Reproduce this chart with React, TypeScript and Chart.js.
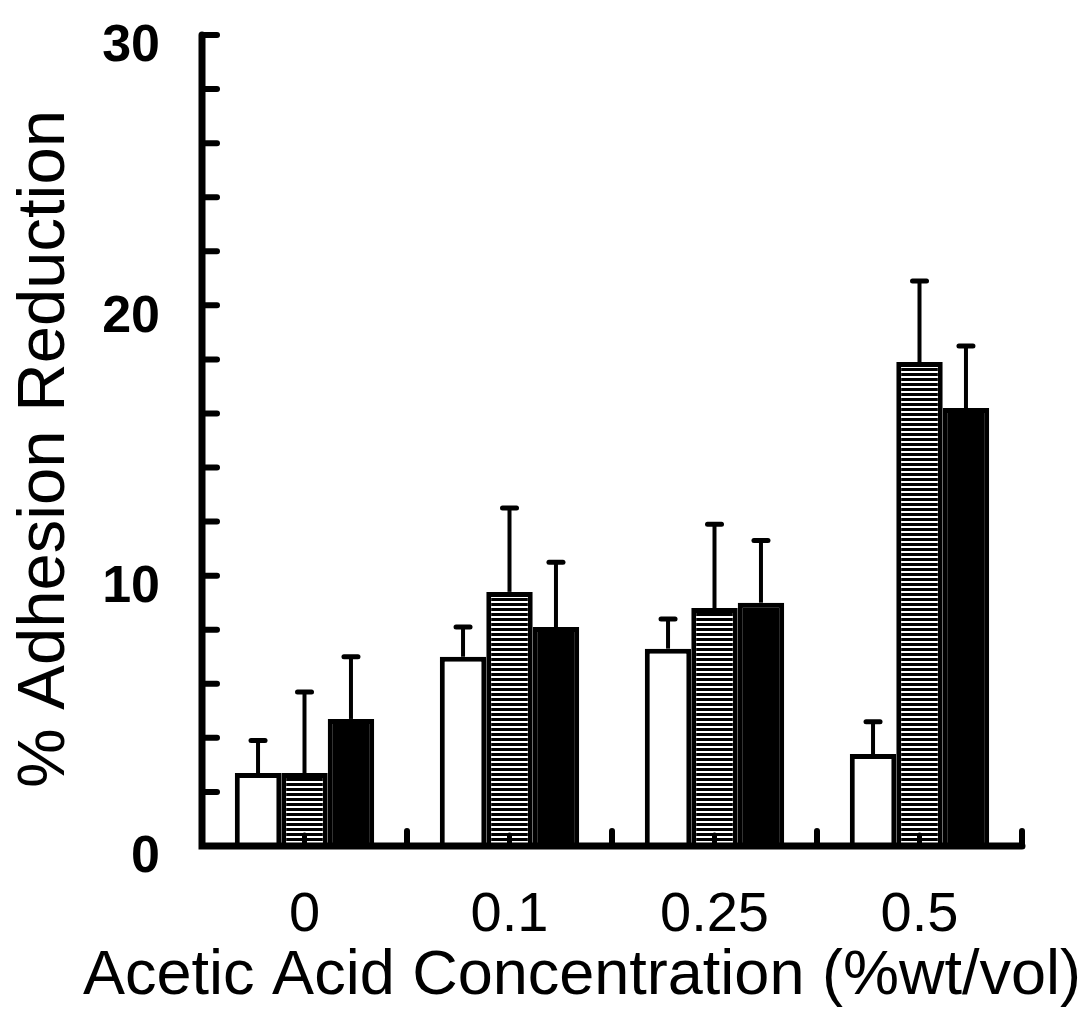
import React, { useEffect, useRef } from 'react';
import { Chart, registerables } from 'chart.js';

Chart.register(...registerables);

const FONT = '"Liberation Sans", Arial, Helvetica, sans-serif';

// Categories (acetic acid concentration, %wt/vol)
const categories = ['0', '0.1', '0.25', '0.5'];

// Bar heights (% adhesion reduction)
const seriesWhite = [2.7, 7.0, 7.3, 3.4];
const seriesHatched = [2.7, 9.4, 8.8, 17.9];
const seriesBlack = [4.7, 8.1, 9.0, 16.2];

// Upper error bar lengths
const errWhite = [1.2, 1.1, 1.1, 1.2];
const errHatched = [3.0, 3.1, 3.1, 3.0];
const errBlack = [2.3, 2.4, 2.3, 2.3];

// Y axis
const yMin = 0;
const yMax = 30;
const yMinorStep = 2;
const yTickLabels = [0, 10, 20, 30];

const xTitle = 'Acetic Acid Concentration (%wt/vol)';
const yTitle = '% Adhesion Reduction';

export default function App() {
  const ref = useRef<HTMLCanvasElement | null>(null);

  useEffect(() => {
    document.body.style.margin = '0';
    const canvas = ref.current!;
    const ctx0 = canvas.getContext('2d')!;

    // horizontal line hatch pattern: black with thin white lines
    const pc = document.createElement('canvas');
    pc.width = 8;
    pc.height = 5;
    const pctx = pc.getContext('2d')!;
    pctx.fillStyle = '#000';
    pctx.fillRect(0, 0, 8, 5);
    pctx.fillStyle = '#fff';
    pctx.fillRect(0, 1, 8, 2);
    const hatch = ctx0.createPattern(pc, 'repeat')!;

    const errors = [errWhite, errHatched, errBlack];

    const customPlugin = {
      id: 'customAxes',
      afterDatasetsDraw(chart: any) {
        const { ctx, chartArea, scales } = chart;
        const x = scales.x;
        const y = scales.y;
        const L = chartArea.left;
        const R = chartArea.right;
        const B = chartArea.bottom;
        ctx.save();
        ctx.strokeStyle = '#000';
        ctx.fillStyle = '#000';

        // error bars (upper only)
        chart.data.datasets.forEach((ds: any, di: number) => {
          const meta = chart.getDatasetMeta(di);
          meta.data.forEach((el: any, i: number) => {
            const v = ds.data[i];
            const e = errors[di][i];
            const yTop = y.getPixelForValue(v + e);
            ctx.lineWidth = 4;
            ctx.lineCap = 'butt';
            ctx.beginPath();
            ctx.moveTo(el.x, el.y);
            ctx.lineTo(el.x, yTop);
            ctx.stroke();
            ctx.lineWidth = 5;
            ctx.lineCap = 'round';
            ctx.beginPath();
            ctx.moveTo(el.x - 7, yTop);
            ctx.lineTo(el.x + 7, yTop);
            ctx.stroke();
          });
        });

        // axis lines
        ctx.lineWidth = 7;
        ctx.lineCap = 'round';
        ctx.lineJoin = 'miter';
        ctx.beginPath();
        ctx.moveTo(L, y.getPixelForValue(yMax));
        ctx.lineTo(L, B);
        ctx.lineTo(R, B);
        ctx.stroke();

        // y ticks (inward)
        ctx.lineWidth = 6;
        ctx.lineCap = 'round';
        for (let v = yMin + yMinorStep; v <= yMax + 1e-9; v += yMinorStep) {
          const py = y.getPixelForValue(v);
          ctx.beginPath();
          ctx.moveTo(L, py);
          ctx.lineTo(L + 15, py);
          ctx.stroke();
        }

        // x boundary ticks (upward)
        const n = categories.length;
        for (let i = 0; i < n; i++) {
          const bx = i < n - 1 ? (x.getPixelForValue(i) + x.getPixelForValue(i + 1)) / 2 : R;
          ctx.beginPath();
          ctx.moveTo(bx, B);
          ctx.lineTo(bx, B - 15);
          ctx.stroke();
        }
        // center ticks
        ctx.lineWidth = 5;
        for (let i = 0; i < n; i++) {
          const cx = x.getPixelForValue(i);
          ctx.beginPath();
          ctx.moveTo(cx, B);
          ctx.lineTo(cx, B - 11);
          ctx.stroke();
        }

        // titles
        ctx.fillStyle = '#000';
        ctx.textAlign = 'center';
        ctx.textBaseline = 'middle';
        ctx.font = `63px ${FONT}`;
        ctx.fillText(xTitle, 582, 977);

        ctx.save();
        ctx.translate(46, 449);
        ctx.rotate(-Math.PI / 2);
        ctx.font = `67px ${FONT}`;
        ctx.fillText(yTitle, 0, 0);
        ctx.restore();

        ctx.restore();
      },
    };

    const chart = new Chart(canvas, {
      type: 'bar',
      data: {
        labels: categories,
        datasets: [
          {
            label: 'white',
            data: seriesWhite,
            backgroundColor: '#ffffff',
            borderColor: '#000000',
            borderWidth: 5,
          },
          {
            label: 'hatched',
            data: seriesHatched,
            backgroundColor: hatch as any,
            borderColor: '#000000',
            borderWidth: 5,
          },
          {
            label: 'black',
            data: seriesBlack,
            backgroundColor: '#000000',
            borderColor: '#000000',
            borderWidth: 5,
          },
        ],
      },
      options: {
        responsive: false,
        animation: false,
        events: [],
        layout: { padding: { top: 35, right: 69, left: 0, bottom: 0 } },
        datasets: {
          bar: { categoryPercentage: 0.68, barPercentage: 1.0 },
        },
        plugins: {
          legend: { display: false },
          tooltip: { enabled: false },
          title: { display: false },
        },
        scales: {
          x: {
            grid: { display: false, drawTicks: false },
            border: { display: false },
            ticks: {
              color: '#000',
              padding: 36,
              font: { family: FONT, size: 56 },
            },
            afterFit: (s: any) => {
              s.height = 1022 - 846;
              s.paddingLeft = 0;
              s.paddingRight = 0;
            },
          },
          y: {
            min: yMin,
            max: yMax,
            grid: { display: false, drawTicks: false },
            border: { display: false },
            ticks: {
              stepSize: yMinorStep,
              autoSkip: false,
              color: '#000',
              padding: 42,
              labelOffset: 12,
              font: { family: FONT, size: 52, weight: 'bold' },
              callback: (v: any) => (yTickLabels.includes(Number(v)) ? String(v) : ''),
            },
            afterFit: (s: any) => {
              s.width = 202;
              s.paddingTop = 0;
              s.paddingBottom = 0;
            },
          },
        },
      },
      plugins: [customPlugin],
    });

    return () => chart.destroy();
  }, []);

  return <canvas ref={ref} width={1091} height={1022} style={{ display: 'block' }} />;
}
